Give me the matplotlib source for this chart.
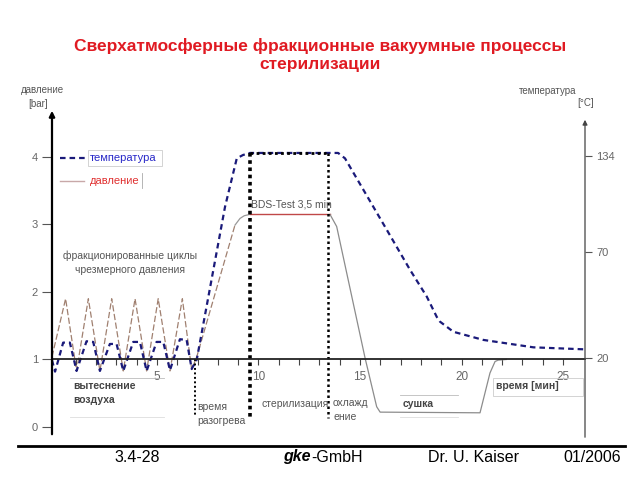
import matplotlib
matplotlib.use("Agg")
import matplotlib.pyplot as plt
import numpy as np
from matplotlib.patches import Rectangle

plt.rcParams['font.family'] = ['Liberation Sans', 'DejaVu Sans']

# ---------------- data ----------------
# pressure curve [bar] over time [min]
p_time = [-0.17, 0.50, 1.04, 1.62, 2.19, 2.77, 3.34, 3.92, 4.49, 5.06, 5.64, 6.25, 6.71, 6.96,
          8.84, 9.09, 9.30, 9.58, 13.52, 13.85, 15.25, 15.82, 15.99, 20.91, 21.40, 21.65, 21.80, 22.20]
p_vals = [1.04, 1.90, 0.83, 1.90, 0.83, 1.90, 0.83, 1.90, 0.83, 1.90, 0.83, 1.90, 0.85, 1.04,
          2.99, 3.09, 3.13, 3.15, 3.15, 2.97, 1.02, 0.30, 0.22, 0.21, 0.80, 0.97, 0.99, 1.00]

# temperature curve, drawn on the schematic (pressure-aligned) scale
t_time = [-0.17, -0.02, 0.38, 0.71, 1.04, 1.53, 1.86, 2.19, 2.68, 3.01, 3.34, 3.83, 4.16, 4.49,
          4.98, 5.31, 5.64, 6.13, 6.46, 6.71, 6.96, 8.35, 8.93, 9.24, 9.58, 13.92, 14.26,
          16.32, 17.46, 18.29, 18.78, 18.94, 19.60, 21.07, 23.54, 26.08]
t_vals = [0.99, 0.82, 1.25, 1.25, 0.83, 1.27, 1.26, 0.83, 1.23, 1.23, 0.83, 1.26, 1.26, 0.83,
          1.26, 1.26, 0.84, 1.30, 1.29, 0.86, 1.00, 3.26, 3.98, 4.03, 4.06, 4.06, 3.98,
          2.92, 2.33, 1.93, 1.63, 1.56, 1.41, 1.29, 1.18, 1.15]

pressure_ticks = [0, 1, 2, 3, 4]
temp_tick_labels = ["134", "70", "20"]
temp_tick_levels = [4.01, 2.59, 1.02]
time_ticks = [5, 10, 15, 20, 25]
phase_times = [6.87, 9.58, 13.44]        # vertical phase markers [min]
plateau_level = 4.06

title = "Сверхатмосферные фракционные вакуумные процессы\nстерилизации"
footer = ["3.4-28", "Dr. U. Kaiser", "01/2006"]

# ---------------- figure ----------------
W, H = 640, 480
fig = plt.figure(figsize=(6.4, 4.8), dpi=100)

def fx(x):
    return x / W

def fy(y):
    return 1 - y / H

ax = fig.add_axes([fx(52), fy(440), (585 - 52) / W, (440 - 108) / H])
ax.set_xlim(-0.17, 26.08)
ax.set_ylim(-0.193, 4.726)
ax.patch.set_alpha(0)

for s in ['top', 'right', 'left']:
    ax.spines[s].set_visible(False)
ax.spines['bottom'].set_position(('data', 1))
ax.spines['bottom'].set_color('#222222')
ax.spines['bottom'].set_linewidth(1.3)

ax.set_xticks(time_ticks)
ax.set_xticklabels([str(t) for t in time_ticks])
ax.set_xticks(np.arange(1, 26), minor=True)
ax.tick_params(axis='x', which='both', direction='out', length=4, width=0.8,
               colors='#444444', labelsize=8.5, pad=4, labelcolor='#666666')

ax.set_yticks(pressure_ticks)
ax.set_yticklabels([str(v) for v in pressure_ticks])
ax.tick_params(axis='y', direction='out', length=7, width=0.8, colors='#555555',
               labelsize=8, pad=3, labelcolor='#666666')

ax2 = ax.twinx()
ax2.set_ylim(ax.get_ylim())
for s in ax2.spines.values():
    s.set_visible(False)
ax2.set_yticks(temp_tick_levels)
ax2.set_yticklabels(temp_tick_labels)
ax2.tick_params(axis='y', direction='out', length=5, width=0.8, colors='#555555',
                labelsize=8, pad=3, labelcolor='#666666')

# axis arrows (left and right)
ax.annotate('', xy=(0, 1.0), xycoords='axes fraction', xytext=(0, (440 - 437) / 332),
            arrowprops=dict(arrowstyle='-|>', color='black', lw=1.6, mutation_scale=8))
ax.annotate('', xy=(1, (440 - 117) / 332), xycoords='axes fraction', xytext=(1, 0),
            arrowprops=dict(arrowstyle='-|>', color='#444444', lw=0.9, mutation_scale=7))

# pressure curve segments
ax.plot(p_time[:15], p_vals[:15], color='#a08070', lw=0.9, dashes=(5, 2))
ax.plot(p_time[14:18], p_vals[14:18], color='#999999', lw=0.9)
ax.plot(p_time[17:19], p_vals[17:19], color='#c04848', lw=1.0)
ax.plot(p_time[18:], p_vals[18:], color='#8c8c8c', lw=0.9)

# temperature curve
ax.plot(t_time, t_vals, color='#1a1a7a', lw=1.6, dashes=(2.5, 1.8))

# phase markers
ax.plot([phase_times[0]] * 2, [1.0, 0.15], color='black', lw=1.4, ls=(0, (1, 1.3)))
ax.plot([phase_times[1]] * 2, [plateau_level, 0.10], color='black', lw=2.6, ls=(0, (1, 1)))
ax.plot([phase_times[2]] * 2, [plateau_level, 0.13], color='black', lw=1.8, ls=(0, (1, 1.2)))
ax.plot([phase_times[1], phase_times[2]], [plateau_level] * 2, color='black', lw=2.0,
        ls=(0, (1, 1.2)))

# ---------------- texts ----------------
fig.text(0.5, fy(55), title, ha='center', va='center', color='#e01a22',
         fontsize=12.5, fontweight='bold', linespacing=1.25)

grey = '#555555'
fig.text(fx(42), fy(90), 'давление', ha='center', va='center', fontsize=7, color=grey)
fig.text(fx(38), fy(104), '[bar]', ha='center', va='center', fontsize=7, color=grey)
fig.text(fx(548), fy(91), 'температура', ha='center', va='center', fontsize=7, color=grey)
fig.text(fx(586), fy(103), '[°C]', ha='center', va='center', fontsize=7, color=grey)

# legend
fig.add_artist(plt.Line2D([fx(60), fx(85)], [fy(158)] * 2, color='#1a1a7a', lw=1.6,
                          dashes=(2.5, 1.8)))
fig.add_artist(plt.Line2D([fx(60), fx(84)], [fy(180.5)] * 2, color='#c8a8a8', lw=1.0))
fig.text(fx(90), fy(158), 'температура', ha='left', va='center', fontsize=8, color='#2828c8')
fig.text(fx(90), fy(181), 'давление', ha='left', va='center', fontsize=8, color='#e03030')
fig.add_artist(Rectangle((fx(88), fy(166)), fx(74), (166 - 150) / H, fill=False,
                         edgecolor='#cccccc', lw=0.6, transform=fig.transFigure))
fig.add_artist(plt.Line2D([fx(142)] * 2, [fy(173), fy(188)], color='#aaaaaa', lw=0.6))

fig.text(fx(130), fy(263), 'фракционированные циклы\nчрезмерного давления', ha='center',
         va='center', fontsize=7.5, color=grey, linespacing=1.45)

fig.text(fx(73), fy(393), 'вытеснение\nвоздуха', ha='left', va='center', fontsize=7.5,
         color='#444444', fontweight='bold', linespacing=1.6)
fig.add_artist(plt.Line2D([fx(70), fx(164)], [fy(377.5)] * 2, color='#bbbbbb', lw=0.6))
fig.add_artist(plt.Line2D([fx(70), fx(164)], [fy(416.5)] * 2, color='#dddddd', lw=0.6))

fig.text(fx(197), fy(414), 'время\nразогрева', ha='left', va='center', fontsize=7.5,
         color=grey, linespacing=1.45)
fig.text(fx(262), fy(404), 'стерилизация', ha='left', va='center', fontsize=7.5, color=grey)
fig.text(fx(333), fy(410), 'охлажд\nение', ha='left', va='center', fontsize=7.5,
         color=grey, linespacing=1.45)
fig.text(fx(403), fy(404), 'сушка', ha='left', va='center', fontsize=7.5, color='#444444',
         fontweight='bold')
fig.add_artist(plt.Line2D([fx(400), fx(458)], [fy(395)] * 2, color='#bbbbbb', lw=0.6))
fig.add_artist(plt.Line2D([fx(400), fx(458)], [fy(417)] * 2, color='#dddddd', lw=0.6))

fig.text(fx(496), fy(386), 'время [мин]', ha='left', va='center', fontsize=7.5,
         color='#444444', fontweight='bold')
fig.add_artist(Rectangle((fx(493), fy(396)), fx(90), 18 / H, fill=False,
                         edgecolor='#cccccc', lw=0.6, transform=fig.transFigure))

fig.text(fx(251), fy(205), 'BDS-Test 3,5 min', ha='left', va='center', fontsize=7.5,
         color=grey)

# footer
fig.add_artist(plt.Line2D([fx(18), fx(625)], [fy(446)] * 2, color='black', lw=2.0))
fig.text(fx(137), fy(457), footer[0], ha='center', va='center', fontsize=11.5, color='black')
fig.text(fx(311), fy(457), 'gke', ha='right', va='center', fontsize=11.5, color='black',
         fontweight='bold', fontstyle='italic')
fig.text(fx(311), fy(457), '-GmbH', ha='left', va='center', fontsize=11.5, color='black')
fig.text(fx(473), fy(457), footer[1], ha='center', va='center', fontsize=11.5, color='black')
fig.text(fx(592), fy(457), footer[2], ha='center', va='center', fontsize=11.5, color='black')

fig.savefig('out.png', dpi=100)
